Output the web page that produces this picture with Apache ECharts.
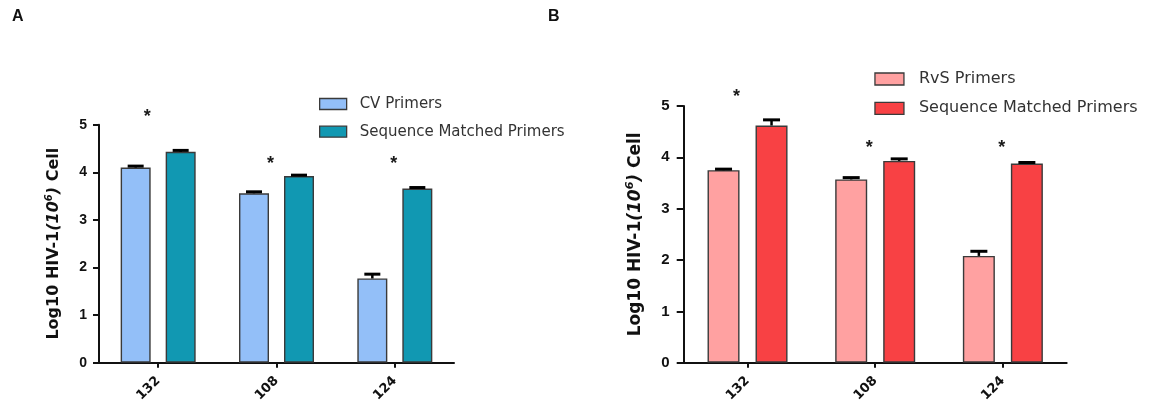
<!DOCTYPE html>
<html>
<head>
<meta charset="utf-8">
<script src="https://cdn.jsdelivr.net/npm/echarts@6/dist/echarts.min.js"></script>
<style>
  html, body { margin: 0; padding: 0; background: #fff; }
  #chart { width: 1150px; height: 410px; }
</style>
</head>
<body>
<div id="chart"></div>
<script>
// ---------- data ----------
const categories = ['132', '108', '124'];

// Panel A
const cvPrimers      = [4.10, 3.56, 1.77];
const cvPrimersErr   = [0.03, 0.03, 0.09];
const smPrimersA     = [4.43, 3.92, 3.66];
const smPrimersAErr  = [0.03, 0.02, 0.02];
const starsA         = [5.25, 4.26, 4.26];

// Panel B
const rvsPrimers     = [3.75, 3.57, 2.08];
const rvsPrimersErr  = [0.02, 0.035, 0.09];
const smPrimersB     = [4.62, 3.93, 3.88];
const smPrimersBErr  = [0.11, 0.04, 0.02];
const starsB         = [5.26, 4.26, 4.26];

const seriesNames = {
  cv: 'CV Primers',
  smA: 'Sequence Matched Primers',
  rvs: 'RvS Primers',
  smB: 'Sequence Matched Primers'
};
const yAxisTitle = '{a|Log10 HIV-1}{i|(10}{s|6}{i|)}{a| Cell}';

// ---------- styles ----------
const COLORS = { cv: '#93BFF8', smA: '#1198B2', rvs: '#FFA1A1', smB: '#F84144' };
const BORDER = '#3a3a3a';
const AX = '#111';
const starShift = [-11, -6, -1];

const chart = echarts.init(document.getElementById('chart'), null, { renderer: 'canvas' });

function errSeries(values, errs, side, barW, gap, capW, axisIdx) {
  return {
    type: 'custom',
    xAxisIndex: axisIdx, yAxisIndex: axisIdx,
    silent: true, z: 5,
    data: values.map((v, i) => [i, v, errs[i]]),
    renderItem: function (params, api) {
      const i = api.value(0), v = api.value(1), e = api.value(2);
      const base = api.coord([i, v]);
      const top = api.coord([i, v + e]);
      const x = base[0] + side * barW * (1 + gap) / 2;
      return {
        type: 'group',
        children: [
          { type: 'line', shape: { x1: x, y1: base[1], x2: x, y2: top[1] }, style: { stroke: '#000', lineWidth: 2.5 } },
          { type: 'line', shape: { x1: x - capW / 2, y1: top[1], x2: x + capW / 2, y2: top[1] }, style: { stroke: '#000', lineWidth: 3 } }
        ]
      };
    }
  };
}

function starSeries(values, axisIdx) {
  return {
    type: 'custom',
    xAxisIndex: axisIdx, yAxisIndex: axisIdx,
    silent: true, z: 5,
    data: values.map((v, i) => [i, v]),
    renderItem: function (params, api) {
      const i = api.value(0);
      const p = api.coord([i, api.value(1)]);
      return {
        type: 'text',
        x: p[0] + starShift[i], y: p[1] + 4,
        style: { text: '*', fill: '#1a1a1a', font: 'bold 18px "Liberation Sans", Arial, sans-serif', align: 'center', verticalAlign: 'middle' }
      };
    }
  };
}

function titleRich(size) {
  const base = { fontFamily: 'DejaVu Sans', fontWeight: 'bold', fontSize: size, color: AX, lineHeight: size + 4 };
  return {
    a: Object.assign({}, base),
    i: Object.assign({}, base, { fontStyle: 'italic' }),
    s: Object.assign({}, base, { fontStyle: 'italic', fontSize: Math.round(size * 0.62), lineHeight: Math.round(size * 0.62), verticalAlign: 'top' })
  };
}

function yAxisDef(gridIdx, gap, tickLen, labelMargin, titleSize, labelSize) {
  return {
    type: 'value', gridIndex: gridIdx, min: 0, max: 5, interval: 1,
    name: yAxisTitle, nameLocation: 'middle', nameGap: gap,
    nameTextStyle: { rich: titleRich(titleSize) },
    axisLine: { show: true, lineStyle: { color: AX, width: 2 } },
    axisTick: { show: true, length: tickLen, lineStyle: { color: AX, width: 2 } },
    axisLabel: { margin: labelMargin, color: AX, fontFamily: '"Liberation Sans", Arial, sans-serif', fontWeight: 'bold', fontSize: labelSize },
    splitLine: { show: false }
  };
}

function xAxisDef(gridIdx) {
  return {
    type: 'category', gridIndex: gridIdx, data: categories,
    axisLine: { show: true, lineStyle: { color: AX, width: 2 } },
    axisTick: { show: true, alignWithLabel: true, length: 5, lineStyle: { color: AX, width: 2 } },
    axisLabel: { rotate: 45, margin: 16, color: AX, fontFamily: 'DejaVu Sans', fontWeight: 'bold', fontSize: 13 }
  };
}

const BW_A = 30, BW_B = 32, GAP = 0.5;

function barSeries(name, values, color, axisIdx, bw) {
  return {
    name: name, type: 'bar', xAxisIndex: axisIdx, yAxisIndex: axisIdx,
    data: values, barWidth: bw, barGap: (GAP * 100) + '%',
    itemStyle: { color: color, borderColor: BORDER, borderWidth: 1.4 },
    emphasis: { disabled: true }
  };
}

const option = {
  animation: false,
  backgroundColor: '#fff',
  grid: [
    { left: 99, top: 124.7, width: 355, height: 238 },
    { left: 683.7, top: 106, width: 383, height: 256.7 }
  ],
  xAxis: [xAxisDef(0), xAxisDef(1)],
  yAxis: [yAxisDef(0, 35, 6, 12, 16, 14), yAxisDef(1, 38, 7, 14, 17, 15)],
  legend: [
    {
      data: ['A|' + seriesNames.cv, 'A|' + seriesNames.smA],
      formatter: n => n.slice(2),
      orient: 'vertical', left: 314, top: 91.5,
      itemWidth: 27, itemHeight: 11, itemGap: 12.7, icon: 'rect',
      itemStyle: { borderColor: BORDER, borderWidth: 1.3 },
      selectedMode: false,
      textStyle: { fontFamily: 'DejaVu Sans', fontSize: 15, color: '#333', padding: [0, 0, 0, 8] }
    },
    {
      data: ['B|' + seriesNames.rvs, 'B|' + seriesNames.smB],
      formatter: n => n.slice(2),
      orient: 'vertical', left: 869.3, top: 66,
      itemWidth: 29, itemHeight: 12, itemGap: 13.3, icon: 'rect',
      itemStyle: { borderColor: BORDER, borderWidth: 1.3 },
      selectedMode: false,
      textStyle: { fontFamily: 'DejaVu Sans', fontSize: 16, color: '#333', padding: [0, 0, 0, 10] }
    }
  ],
  graphic: [
    { type: 'text', left: 12, top: 9, style: { text: 'A', font: 'bold 16px "Liberation Sans", Arial, sans-serif', fill: '#111' } },
    { type: 'text', left: 548, top: 9, style: { text: 'B', font: 'bold 16px "Liberation Sans", Arial, sans-serif', fill: '#111' } }
  ],
  series: [
    barSeries('A|' + seriesNames.cv, cvPrimers, COLORS.cv, 0, BW_A),
    barSeries('A|' + seriesNames.smA, smPrimersA, COLORS.smA, 0, BW_A),
    errSeries(cvPrimers, cvPrimersErr, -1, BW_A, GAP, 16, 0),
    errSeries(smPrimersA, smPrimersAErr, 1, BW_A, GAP, 16, 0),
    starSeries(starsA, 0),
    barSeries('B|' + seriesNames.rvs, rvsPrimers, COLORS.rvs, 1, BW_B),
    barSeries('B|' + seriesNames.smB, smPrimersB, COLORS.smB, 1, BW_B),
    errSeries(rvsPrimers, rvsPrimersErr, -1, BW_B, GAP, 17, 1),
    errSeries(smPrimersB, smPrimersBErr, 1, BW_B, GAP, 17, 1),
    starSeries(starsB, 1)
  ]
};
chart.setOption(option);
</script>
</body>
</html>
